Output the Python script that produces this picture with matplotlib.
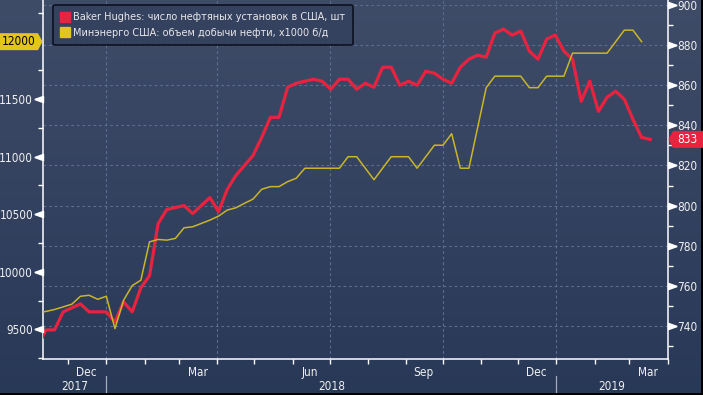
import matplotlib
matplotlib.use("Agg")
import matplotlib.pyplot as plt
import matplotlib.transforms as mtransforms
from matplotlib import font_manager
from matplotlib.font_manager import FontProperties
from matplotlib.lines import Line2D
from matplotlib.patches import Polygon, Rectangle
from matplotlib.path import Path
import numpy as np
import pandas as pd

# weekly points (first one sits just left of the visible window)
dates = pd.date_range("2017-11-06", periods=72, freq="7D")

rigs = [729, 738, 738, 747, 749, 751, 747, 747, 747, 742, 752, 747, 759, 765,
        791, 798, 799, 800, 796, 800, 804, 797, 808, 815, 820, 825, 834, 844,
        844, 859, 861, 862, 863, 862, 858, 863, 863, 858, 861, 859, 869, 869,
        860, 862, 860, 867, 866, 863, 861, 869, 873, 875, 874, 886, 888, 885,
        887, 877, 873, 883, 885, 877, 873, 852, 862, 847, 854, 857, 853, 843,
        834, 833]

output = [9645, 9655, 9672, 9695, 9718, 9787, 9796, 9761, 9787, 9506, 9753,
          9880, 9927, 10260, 10281, 10275, 10290, 10382, 10391, 10420, 10449,
          10484, 10536, 10556, 10595, 10632, 10717, 10740, 10740, 10783, 10813,
          10900, 10900, 10900, 10900, 10900, 11000, 11000, 10900, 10800, 10900,
          11000, 11000, 11000, 10900, 11000, 11100, 11100, 11200, 10900, 10900,
          11250, 11600, 11700, 11700, 11700, 11700, 11600, 11600, 11700, 11700,
          11700, 11900, 11900, 11900, 11900, 11900, 12000, 12100, 12100, 12000,
          np.nan]

legend_labels = ["Baker Hughes: число нефтяных установок в США, шт",
                 "Минэнерго США: объем добычи нефти, x1000 б/д"]
month_label_dates = ["2017-12-16", "2018-03-16", "2018-06-15", "2018-09-15",
                     "2018-12-16", "2019-03-16"]
month_labels = ["Dec", "Mar", "Jun", "Sep", "Dec", "Mar"]
years = [("2017", "2017-11-10", "2018-01-01"),
         ("2018", "2018-01-01", "2019-01-01"),
         ("2019", "2019-01-01", "2019-04-01")]

RED = "#e8233f"
YELLOW = "#c9b52a"
TXT = "#f0f0f0"
GRID = "#5d6d8e"

# narrow font for the axis texts, whatever is available
fl = font_manager.fontManager.ttflist
if any(f.name == "Liberation Sans Narrow" for f in fl):
    tprop = FontProperties(family="Liberation Sans Narrow", size=10.5)
elif any(f.name == "DejaVu Sans" and f.stretch == "condensed" and f.weight in (400, "normal")
         and f.style == "normal" for f in fl):
    tprop = FontProperties(family="DejaVu Sans", stretch="condensed", size=8.5)
else:
    tprop = FontProperties(family="Liberation Sans", size=8.5)

W, H = 703, 395
fig = plt.figure(figsize=(W / 100, H / 100), dpi=100)

# background gradient
bg = fig.add_axes([0, 0, 1, 1], zorder=-10)
top = np.array([63, 76, 104]) / 255
bot = np.array([40, 56, 87]) / 255
t = np.linspace(0, 1, 256)[:, None]
grad = (top * (1 - t) + bot * t)[:, None, :]
bg.imshow(grad, aspect="auto", extent=[0, 1, 0, 1])
bg.axis("off")

left, right, bottom = 42.7 / W, 667.5 / W, 1 - 359 / H
ax = fig.add_axes([left, bottom, right - left, 1 - bottom])
ax.patch.set_visible(False)
ay = ax.twinx()
ax.yaxis.tick_right()
ay.yaxis.tick_left()

ax.plot(dates, rigs, color=RED, lw=2.3, solid_joinstyle="round", zorder=3)
ay.plot(dates, output, color=YELLOW, lw=1.1, zorder=3)

ax.set_xlim(pd.Timestamp("2017-11-10 10:00"), pd.Timestamp("2019-04-01"))
ax.set_ylim(723.5, 902.5)
ay.set_ylim(9242, 12362)

# gridlines
ax.set_yticks(np.arange(740, 901, 20))
ax.set_yticks(np.arange(730, 900, 20), minor=True)
ax.grid(axis="y", which="major", color=GRID, ls=(0, (2.5, 2.5)), lw=0.8)
for q in pd.date_range("2018-01-01", "2019-01-01", freq="QS"):
    ax.axvline(q, color=GRID, ls=(0, (2.5, 2.5)), lw=0.8, zorder=1)

ay.set_yticks(np.arange(9500, 11501, 500))
ay.set_yticks(np.arange(9250, 12300, 500), minor=True)

for a in (ax, ay):
    for s in a.spines.values():
        s.set_visible(False)
for s in ("left", "right", "bottom"):
    ax.spines[s].set_visible(True)
    ax.spines[s].set_color("white")
    ax.spines[s].set_linewidth(1.1)

for a in (ax, ay):
    a.tick_params(axis="y", which="major", length=6.3, width=0, pad=0.6, labelcolor=TXT)
    a.tick_params(axis="y", which="minor", length=3.5, width=1, color="white")
    for lab in a.get_yticklabels():
        lab.set_fontproperties(tprop)

# caret tick marks
cl = Path([(-1, 0), (0, -0.36), (0, 0.36), (-1, 0)])
cr = Path([(1, 0), (0, -0.36), (0, 0.36), (1, 0)])
ay.plot(np.zeros(5), np.arange(9500, 11501, 500), ls="none", marker=cl, ms=12.5,
        color="white", transform=ay.get_yaxis_transform(), clip_on=False)
ax.plot(np.ones(9), np.arange(740, 901, 20), ls="none", marker=cr, ms=12.5,
        color="white", transform=ax.get_yaxis_transform(), clip_on=False)

# x axis
ax.set_xticks(pd.date_range("2017-12-01", "2019-04-01", freq="MS"), minor=True)
ax.set_xticks(pd.to_datetime(month_label_dates))
ax.set_xticklabels(month_labels, color=TXT)
for lab in ax.get_xticklabels():
    lab.set_fontproperties(tprop)
ax.tick_params(axis="x", which="major", length=0, pad=5)
ax.tick_params(axis="x", which="minor", length=3.5, width=1, color="white")

xt = ax.get_xaxis_transform()
for lab, a0, a1 in years:
    mid = pd.Timestamp(a0) + (pd.Timestamp(a1) - pd.Timestamp(a0)) / 2
    ax.text(mid, -0.077, lab, transform=xt, ha="center", va="center",
            fontproperties=tprop, color=TXT)
for d in ["2018-01-01", "2019-01-01"]:
    ax.plot([pd.Timestamp(d)] * 2, [-0.047, -0.097], transform=xt,
            color="#a3abbd", lw=0.9, clip_on=False)

# legend
handles = [Line2D([], [], marker="s", ls="none", ms=7.5, color=RED),
           Line2D([], [], marker="s", ls="none", ms=7.5, color="#e3c51d")]
leg = ay.legend(handles, legend_labels, loc="upper left",
                bbox_to_anchor=(0.0165, 0.986), fontsize=7.0, labelcolor="#e8e8e8",
                facecolor="#34415f", edgecolor="#0c1120", framealpha=1,
                handlelength=0.9, handletextpad=0.45, borderpad=0.75,
                labelspacing=0.55, borderaxespad=0, fancybox=True)
leg.get_frame().set_linewidth(1.2)

# value tags
ident = mtransforms.IdentityTransform()
yy = ay.get_yaxis_transform().transform((0, 12000))[1]
fig.add_artist(Polygon([(0, yy - 8.5), (38, yy - 8.5), (42.5, yy), (38, yy + 8.5), (0, yy + 8.5)],
                       closed=True, fc="#e3c51d", ec="none", transform=ident))
fig.text(19 / W, yy / H, "12000", ha="center", va="center", color="black",
         fontproperties=tprop)

yr = ax.get_yaxis_transform().transform((0, rigs[-1]))[1]
fig.add_artist(Polygon([(W, yr - 8.5), (673, yr - 8.5), (668.5, yr), (673, yr + 8.5), (W, yr + 8.5)],
                       closed=True, fc=RED, ec="none", transform=ident))
fig.text(687.5 / W, yr / H, str(rigs[-1]), ha="center", va="center", color="white",
         fontproperties=tprop)

# dark strips at the frame edges
fig.add_artist(Rectangle((0, 0), W, 2, fc="black", ec="none", transform=ident))
fig.add_artist(Rectangle((W - 2, 0), 2, H, fc="black", ec="none", transform=ident, zorder=0.5))

fig.savefig("out.png", dpi=100)
